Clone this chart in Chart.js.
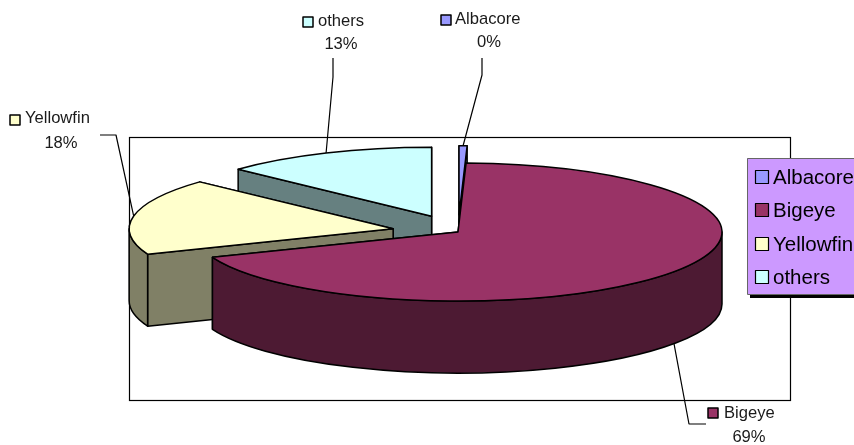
<!DOCTYPE html>
<html>
<head>
<meta charset="utf-8">
<script src="https://cdn.jsdelivr.net/npm/chart.js@4"></script>
<style>
    html, body { margin: 0; padding: 0; background: #ffffff; }
    canvas { display: block; }
</style>
</head>
<body>
<canvas id="catch_chart" width="854" height="445"></canvas>
<script>
const categories = ['Albacore', 'Bigeye', 'Yellowfin', 'others']
const catch_share = [0.49, 68.52, 17.9, 13.09]

const slice_colors = ['#9999FF', '#993366', '#FFFFCC', '#CCFFFF']
const side_colors = ['#4D4D80', '#4D1A33', '#808066', '#668080']
const explode = [0.25, 0, 0.25, 0.25]
// back to front, so nearer slices paint over the others
const draw_order = [3, 0, 2, 1]

const font_name = '"Liberation Sans", Arial, sans-serif'
const squash_x = 264 / 213
const squash_y = 69 / 213
const depth = 72

const plot_box = { left: 129, top: 137, right: 790, bottom: 400 }
const legend_box = { left: 747, top: 158, right: 860, bottom: 294 }
const legend_rows = [177, 210, 244, 277]

// where the name label of each slice sits, and the elbow of its leader line
const label_spots = [
    { swatch_x: 441, swatch_y: 15, text_x: 455, text_y: 19, pct_x: 489, pct_y: 42, elbow: [[482, 58], [482, 75]] },
    { swatch_x: 708, swatch_y: 408, text_x: 724, text_y: 413, pct_x: 749, pct_y: 437, elbow: [[706, 424], [689, 424]] },
    { swatch_x: 10, swatch_y: 115, text_x: 25, text_y: 118, pct_x: 61, pct_y: 143, elbow: [[100, 135], [116, 135]] },
    { swatch_x: 303, swatch_y: 17, text_x: 318, text_y: 21, pct_x: 341, pct_y: 44, elbow: [[333, 58], [333, 77]] }
]

function slice_geometry(arc, index) {
    const rx = arc.outerRadius * squash_x
    const ry = arc.outerRadius * squash_y
    const mid = (arc.startAngle + arc.endAngle) / 2
    return {
        rx: rx,
        ry: ry,
        mid: mid,
        start: arc.startAngle,
        end: arc.endAngle,
        cx: arc.x + Math.cos(mid) * rx * explode[index],
        cy: arc.y + Math.sin(mid) * ry * explode[index]
    }
}

function draw_cut_face(ctx, g, angle, color) {
    const px = g.cx + Math.cos(angle) * g.rx
    const py = g.cy + Math.sin(angle) * g.ry
    ctx.beginPath()
    ctx.moveTo(g.cx, g.cy)
    ctx.lineTo(px, py)
    ctx.lineTo(px, py + depth)
    ctx.lineTo(g.cx, g.cy + depth)
    ctx.closePath()
    ctx.fillStyle = color
    ctx.fill()
    ctx.stroke()
}

function draw_rim(ctx, g, color) {
    const from = Math.max(g.start, 0)
    const to = Math.min(g.end, Math.PI)
    if (to <= from) {
        return
    }
    ctx.beginPath()
    ctx.ellipse(g.cx, g.cy, g.rx, g.ry, 0, from, to)
    ctx.ellipse(g.cx, g.cy + depth, g.rx, g.ry, 0, to, from, true)
    ctx.closePath()
    ctx.fillStyle = color
    ctx.fill()
    ctx.stroke()
}

function draw_top(ctx, g, color) {
    ctx.beginPath()
    ctx.moveTo(g.cx, g.cy)
    ctx.ellipse(g.cx, g.cy, g.rx, g.ry, 0, g.start, g.end)
    ctx.closePath()
    ctx.fillStyle = color
    ctx.fill()
    ctx.stroke()
}

function draw_swatch(ctx, x, y, size, color) {
    ctx.fillStyle = color
    ctx.fillRect(x, y, size, size)
    ctx.strokeRect(x, y, size, size)
}

function draw_labels(ctx, arcs) {
    const total = catch_share.reduce((a, b) => a + b, 0)
    ctx.textBaseline = 'middle'
    ctx.font = `16.6px ${font_name}`
    categories.forEach((name, i) => {
        const spot = label_spots[i]
        const g = slice_geometry(arcs[i], i)
        const on_rim = Math.sin(g.mid) > 0.5 ? depth : 0

        ctx.strokeStyle = '#000000'
        ctx.lineWidth = 1.2
        ctx.beginPath()
        ctx.moveTo(spot.elbow[0][0], spot.elbow[0][1])
        ctx.lineTo(spot.elbow[1][0], spot.elbow[1][1])
        ctx.lineTo(g.cx + Math.cos(g.mid) * g.rx, g.cy + Math.sin(g.mid) * g.ry + on_rim)
        ctx.stroke()

        ctx.lineWidth = 1.5
        draw_swatch(ctx, spot.swatch_x, spot.swatch_y, 10, slice_colors[i])

        ctx.fillStyle = '#1a1a1a'
        ctx.textAlign = 'left'
        ctx.fillText(name, spot.text_x, spot.text_y)
        ctx.textAlign = 'center'
        ctx.fillText(`${Math.round(catch_share[i] / total * 100)}%`, spot.pct_x, spot.pct_y)
    })
}

function draw_legend(ctx) {
    ctx.fillStyle = '#000000'
    ctx.fillRect(legend_box.left + 3, legend_box.top + 4, legend_box.right - legend_box.left, legend_box.bottom - legend_box.top)
    ctx.fillStyle = '#CC99FF'
    ctx.fillRect(legend_box.left, legend_box.top, legend_box.right - legend_box.left, legend_box.bottom - legend_box.top)
    ctx.strokeStyle = '#666666'
    ctx.lineWidth = 1
    ctx.strokeRect(legend_box.left + 0.5, legend_box.top + 0.5, legend_box.right - legend_box.left, legend_box.bottom - legend_box.top)

    ctx.font = `20.5px ${font_name}`
    ctx.textAlign = 'left'
    ctx.textBaseline = 'middle'
    categories.forEach((name, i) => {
        ctx.strokeStyle = '#000000'
        ctx.lineWidth = 1.2
        draw_swatch(ctx, 755.5, legend_rows[i] - 6.5, 13, slice_colors[i])
        ctx.fillStyle = '#000000'
        ctx.fillText(name, 773, legend_rows[i] + 1)
    })
}

const pie_3d_plugin = {
    id: 'pie_3d',
    beforeDatasetDraw(chart) {
        const ctx = chart.ctx
        const arcs = chart.getDatasetMeta(0).data

        ctx.save()
        ctx.strokeStyle = '#000000'
        ctx.lineWidth = 1.2
        ctx.strokeRect(plot_box.left + 0.5, plot_box.top + 0.5, plot_box.right - plot_box.left, plot_box.bottom - plot_box.top)

        ctx.lineWidth = 1.5
        ctx.lineJoin = 'round'
        draw_order.forEach(i => {
            const g = slice_geometry(arcs[i], i)
            draw_cut_face(ctx, g, g.end, side_colors[i])
            draw_cut_face(ctx, g, g.start, side_colors[i])
            draw_rim(ctx, g, side_colors[i])
            draw_top(ctx, g, slice_colors[i])
        })

        draw_labels(ctx, arcs)
        draw_legend(ctx)
        ctx.restore()
        return false
    }
}

new Chart(document.getElementById('catch_chart'), {
    type: 'pie',
    data: {
        labels: categories,
        datasets: [{
            data: catch_share,
            backgroundColor: slice_colors,
            borderWidth: 0
        }]
    },
    options: {
        responsive: false,
        animation: false,
        events: [],
        // puts the pie centre at 458,232 and gives a radius of 213
        layout: { padding: { left: 194, right: 132, top: 19, bottom: 0 } },
        plugins: {
            legend: { display: false },
            tooltip: { enabled: false }
        }
    },
    plugins: [pie_3d_plugin]
});
</script>
</body>
</html>
